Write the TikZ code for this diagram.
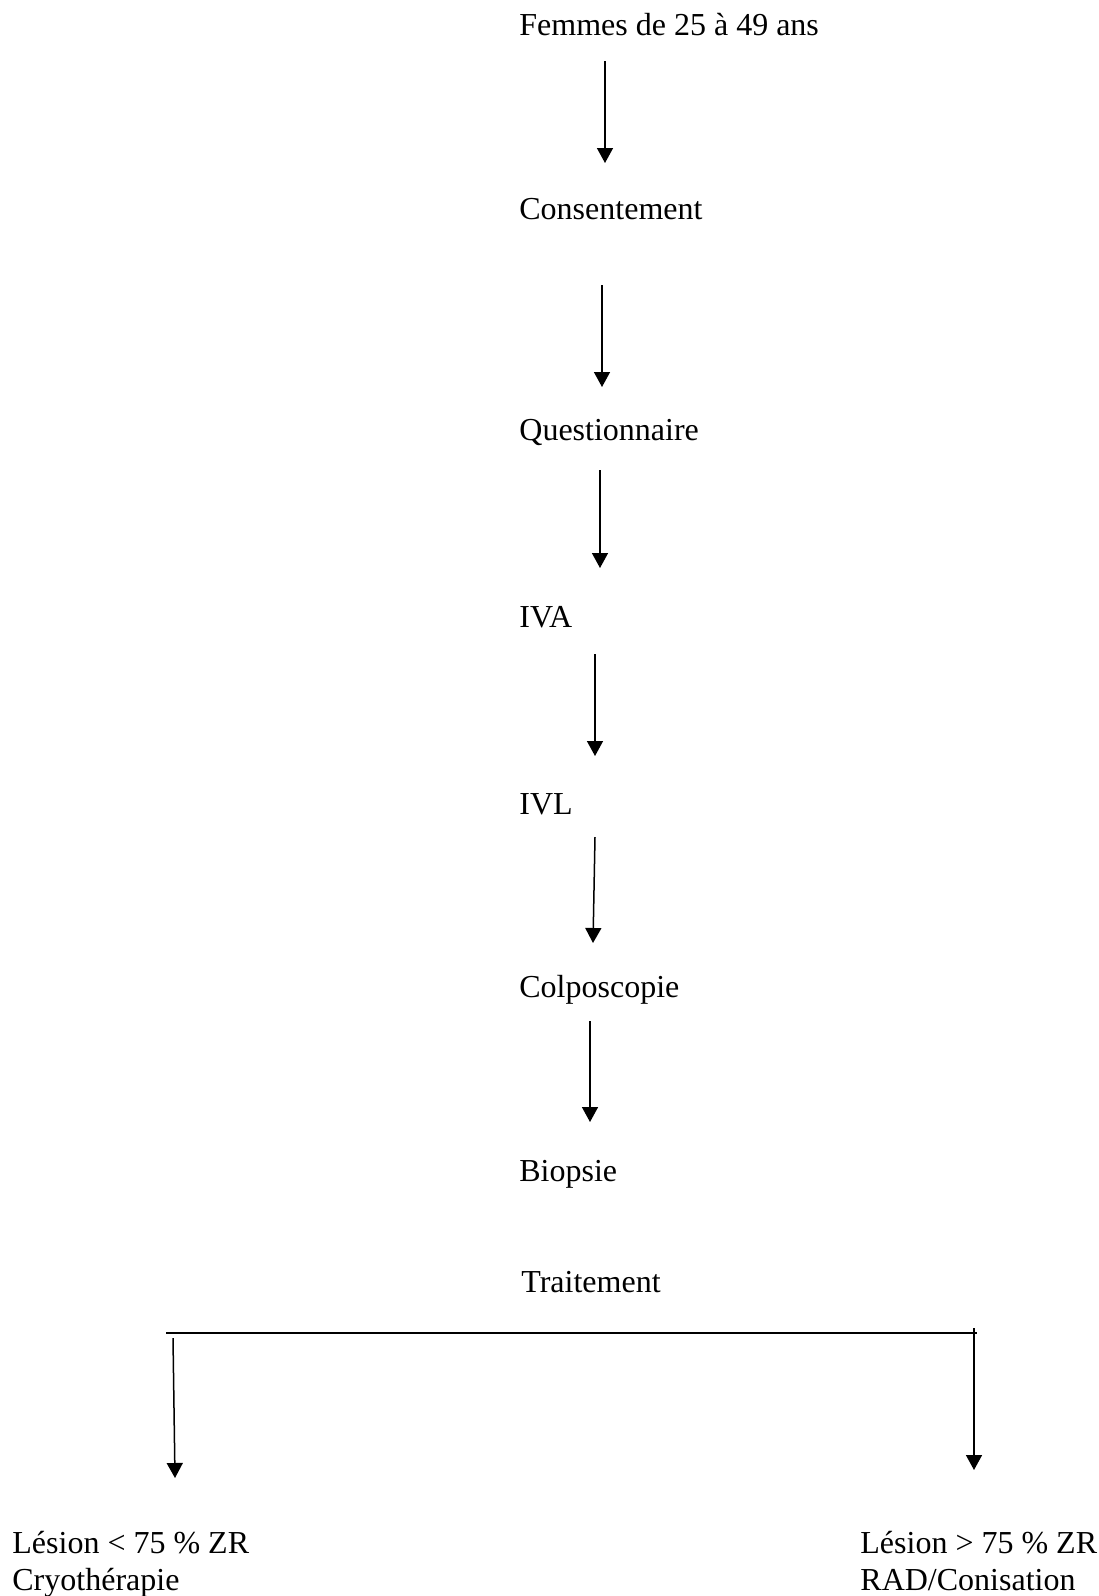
\documentclass[tikz,border=0pt]{standalone}
\usepackage{fontspec}
\setmainfont{Liberation Serif}
\usetikzlibrary{arrows.meta,positioning}

\begin{document}
\begin{tikzpicture}[x=0.5pt,y=-0.5pt,
    etape/.style={anchor=base west,inner sep=0pt,font=\fontsize{16}{18.5}\selectfont},
    fleche/.style={-{Triangle[width=8pt,length=7.5pt]},line width=0.75pt}]
  \useasboundingbox (0,0) rectangle (1098,1596);
  % etapes
  \node[etape] (femmes) at (519,35) {Femmes de 25 à 49 ans};
  \node[etape] (consent) at (519,219) {Consentement};
  \node[etape] (quest) at (519,440) {Questionnaire};
  \node[etape] (iva) at (519,627) {IVA};
  \node[etape] (ivl) at (519,814) {IVL};
  \node[etape] (colpo) at (519,997) {Colposcopie};
  \node[etape] (biopsie) at (519,1181) {Biopsie};
  \node[etape] (trait) at (521,1292) {Traitement};
  \node[etape,align=left] (cryo) at (12,1590) {Lésion < 75 \% ZR\\Cryothérapie};
  \node[etape,align=left] (rad) at (860,1590) {Lésion > 75 \% ZR\\RAD/Conisation};
  % extremites des fleches
  \coordinate (f1a) at (605,61);  \coordinate (f1b) at (605,163);
  \coordinate (f2a) at (602,285); \coordinate (f2b) at (602,387);
  \coordinate (f3a) at (600,470); \coordinate (f3b) at (600,568);
  \coordinate (f4a) at (595,654); \coordinate (f4b) at (595,756);
  \coordinate (f5a) at (595,837); \coordinate (f5b) at (593,943);
  \coordinate (f6a) at (590,1021); \coordinate (f6b) at (590,1122);
  \coordinate (barreg) at (166,1333); \coordinate (barred) at (977,1333);
  \coordinate (gauchea) at (173,1338); \coordinate (gaucheb) at (175,1478);
  \coordinate (droitea) at (974,1328); \coordinate (droiteb) at (974,1470);
  \draw[fleche] (f1a) -- (f1b);
  \draw[fleche] (f2a) -- (f2b);
  \draw[fleche] (f3a) -- (f3b);
  \draw[fleche] (f4a) -- (f4b);
  \draw[fleche] (f5a) -- (f5b);
  \draw[fleche] (f6a) -- (f6b);
  \draw[line width=1pt] (barreg) -- (barred);
  \draw[fleche] (gauchea) -- (gaucheb);
  \draw[fleche] (droitea) -- (droiteb);
\end{tikzpicture}
\end{document}
